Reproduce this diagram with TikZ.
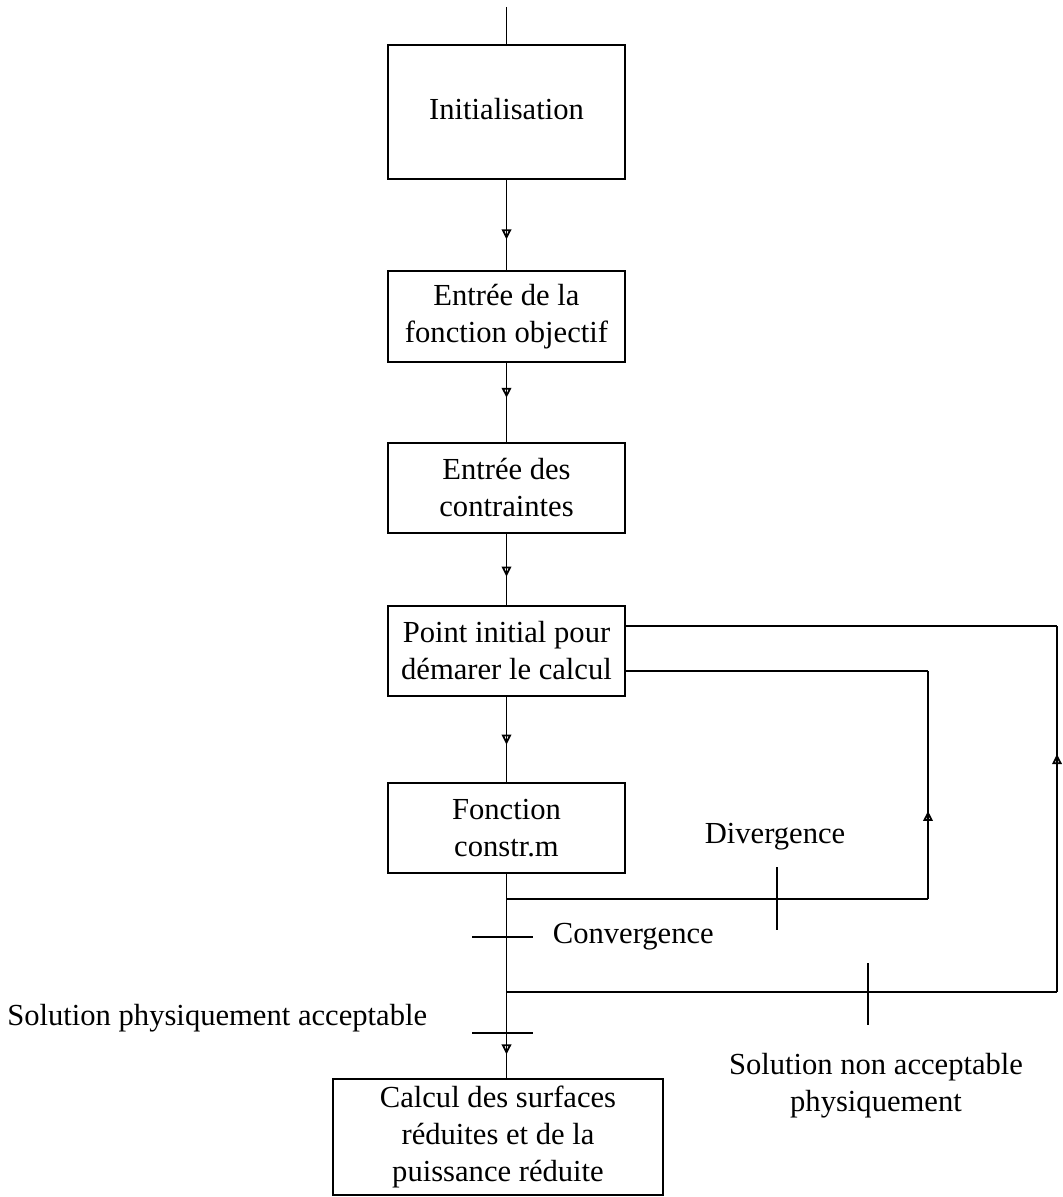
\documentclass[tikz,border=0pt]{standalone}
\usepackage{fontspec}
\setmainfont{Liberation Serif}
\usetikzlibrary{arrows.meta,decorations.markings}
\begin{document}
\begin{tikzpicture}[x=0.5pt,y=-0.5pt,
  every path/.style={line width=0.9pt},
  txt/.style={font=\fontsize{15.3}{18.5}\selectfont},
  box/.style={draw, line width=1pt, inner sep=0pt, align=center, txt},
  lbl/.style={inner sep=0pt, align=center, txt},
  midarrow/.style={postaction={decorate}, decoration={markings,
     mark=at position #1 with {\arrow{Triangle[open,length=5pt,width=4.8pt]}}}}
]
\useasboundingbox (0,0) rectangle (1062,1197);

% boxes
\node[box, minimum width=118.5pt, minimum height=67pt] (b1) at (506.5,112) {\raisebox{3.5pt}{Initialisation}};
\node[box, minimum width=118.5pt, minimum height=45.5pt] (b2) at (506.5,316.5) {Entrée de la\\fonction objectif};
\node[box, minimum width=118.5pt, minimum height=45pt] (b3) at (506.5,488) {Entrée des\\contraintes};
\node[box, minimum width=118.5pt, minimum height=45pt] (b4) at (506.5,651) {Point initial pour\\démarer le calcul};
\node[box, minimum width=118.5pt, minimum height=45pt] (b5) at (506.5,828) {Fonction\\constr.m};
\node[box, minimum width=165pt, minimum height=58pt] (b6) at (498,1137) {Calcul des surfaces\\réduites et de la\\puissance réduite};

% coordinates
\coordinate (top) at (506.5,7);
\coordinate (d1) at (506.5,899);
\coordinate (d2) at (928,899);
\coordinate (d3) at (928,671);
\coordinate (n1) at (506.5,992);
\coordinate (n2) at (1057,992);
\coordinate (n3) at (1057,626);
\coordinate (bend) at (506.5,1079);

% main flow
\draw (top) -- (b1.north);
\draw[midarrow=0.66] (b1.south) -- (b2.north);
\draw[midarrow=0.44] (b2.south) -- (b3.north);
\draw[midarrow=0.6] (b3.south) -- (b4.north);
\draw[midarrow=0.56] (b4.south) -- (b5.north);
\draw[midarrow=0.88] (b5.south) -- (bend);

% divergence loop
\draw (d1) -- (d2);
\draw[midarrow=0.386] (d2) -- (d3);
\draw (d3) -- (d3 -| b4.east);

% non acceptable loop
\draw (n1) -- (n2);
\draw[midarrow=0.65] (n2) -- (n3);
\draw (n3) -- (n3 -| b4.east);

% tick marks
\coordinate (t1a) at (777,867); \coordinate (t1b) at (777,930);
\draw (t1a) -- (t1b);
\coordinate (t2a) at (472,937); \coordinate (t2b) at (533,937);
\draw (t2a) -- (t2b);
\coordinate (t3a) at (868,963); \coordinate (t3b) at (868,1025);
\draw (t3a) -- (t3b);
\coordinate (t4a) at (472,1033); \coordinate (t4b) at (533,1033);
\draw (t4a) -- (t4b);

% labels
\node[lbl] (ldiv) at (775,837) {Divergence};
\node[lbl, anchor=west] (lconv) at (552,937) {Convergence};
\node[lbl, anchor=east] (lacc) at (428,1018) {Solution physiquement acceptable};
\node[lbl] (lnon) at (876,1086) {Solution non acceptable\\physiquement};
\end{tikzpicture}
\end{document}
